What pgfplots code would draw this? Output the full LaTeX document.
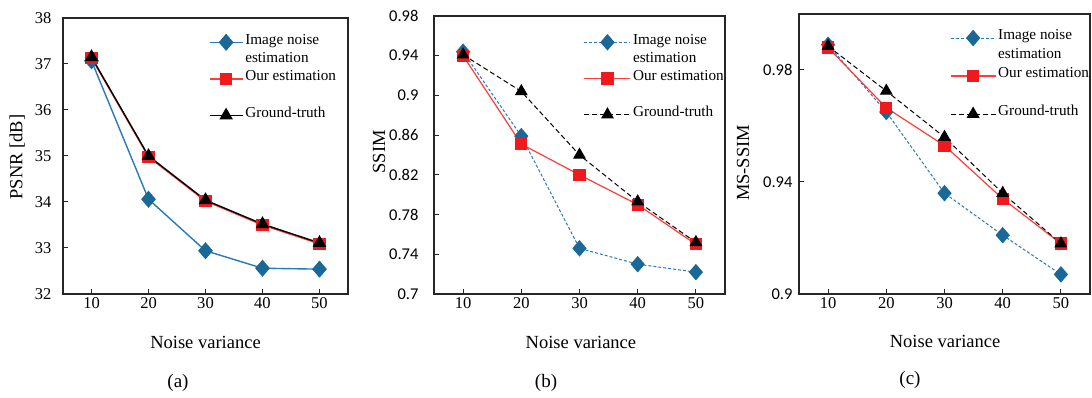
\documentclass[border=0pt]{standalone}
\usepackage{fontspec}
\setmainfont{Liberation Serif}
\newfontfamily\carlito{Carlito}
\usepackage{pgfplots}
\pgfplotsset{compat=1.18}

\definecolor{bline}{RGB}{40,122,184}
\definecolor{bfill}{RGB}{26,104,152}
\definecolor{rline}{RGB}{255,60,60}
\definecolor{rfill}{RGB}{240,25,30}

\pgfplotsset{
 base/.style={
  scale only axis, anchor=south west,
  xmin=5, xmax=55, xtick={10,20,30,40,50},
  tick align=inside, tick pos=left, major tick length=5pt,
  axis line style={line width=1.2pt, black!85},
  every tick/.style={line width=1pt, black!85},
  /pgf/number format/assume math mode=true,
  tick label style={font=\fontsize{16.5}{18}\selectfont},
  label style={font=\fontsize{18.5}{20}\selectfont},
  xlabel={Noise variance},
  legend cell align=left,
  legend style={draw=none, fill=none, font=\fontsize{15.2}{17}\selectfont,
    anchor=north west, row sep=0pt, inner sep=0pt, outer sep=0pt, column sep=0pt,
    nodes={inner xsep=2pt, inner ysep=0pt, text height=11pt, text depth=6.5pt}},
 },
 leglen/.style={legend image code/.code={\draw[mark repeat=2,mark phase=2,##1] plot coordinates {(0pt,0pt)(#1/2,0pt)(#1,0pt)};}},
 imgA/.style={color=bline, line width=1.4pt, mark=diamond*, mark size=7.5pt, mark options={xscale=1.15, fill=bfill, draw=bfill, solid}},
 ourA/.style={color=rline, line width=1.4pt, mark=square*, mark size=5.5pt, mark options={fill=rfill, draw=rfill, solid}},
 gtA/.style={color=black, line width=1.4pt, mark=triangle*, mark size=6.5pt, mark options={fill=black, solid}},
}

\begin{document}
\begin{tikzpicture}[x=1pt,y=1pt]
\useasboundingbox (0,0) rectangle (1092,398);

% (a)
\begin{axis}[base, at={(63pt,104pt)}, width=285pt, height=276pt,
  ymin=32, ymax=38, ytick={32,33,34,35,36,37,38},
  yticklabel style={xshift=-8pt},
  ylabel={PSNR [dB]},
  ylabel style={at={(axis description cs:-0.161,0.496)}, anchor=center},
  xlabel style={at={(axis description cs:0.5,-0.174)}, anchor=center},
  legend style={at={(axis description cs:0.512,0.945)}, nodes={text height=11pt, text depth=7.3pt}},
  leglen=33pt]
\addplot[imgA] coordinates {(10,37.07)(20,34.06)(30,32.94)(40,32.56)(50,32.54)};
\addlegendentry{Image noise}
\addlegendimage{empty legend}\addlegendentry{estimation}
\addplot[ourA] coordinates {(10,37.13)(20,34.98)(30,34.02)(40,33.50)(50,33.09)};
\addlegendentry{Our estimation}
\addlegendimage{empty legend}\addlegendentry{}
\addplot[gtA] coordinates {(10,37.15)(20,35.00)(30,34.04)(40,33.52)(50,33.11)};
\addlegendentry{Ground-truth}
\end{axis}

% (b)
\begin{axis}[base, at={(434pt,104pt)}, width=291pt, height=278pt,
  ymin=0.7, ymax=0.98, ytick={0.7,0.74,0.78,0.82,0.86,0.9,0.94,0.98},
  yticklabel style={font=\carlito\fontsize{16.5}{18}\selectfont, xshift=-12pt},
  ylabel={SSIM},
  ylabel style={at={(axis description cs:-0.189,0.511)}, anchor=center},
  xlabel style={at={(axis description cs:0.505,-0.176)}, anchor=center},
  legend style={at={(axis description cs:0.515,0.938)}, nodes={text height=11pt, text depth=7.1pt}},
  leglen=46pt]
\addplot[imgA, line width=1pt, dash pattern=on 3pt off 2pt] coordinates {(10,0.944)(20,0.859)(30,0.746)(40,0.730)(50,0.722)};
\addlegendentry{Image noise}
\addlegendimage{empty legend}\addlegendentry{estimation}
\addplot[ourA, line width=1.2pt] coordinates {(10,0.940)(20,0.851)(30,0.820)(40,0.790)(50,0.750)};
\addlegendentry{Our estimation}
\addlegendimage{empty legend}\addlegendentry{}
\addplot[gtA, line width=1pt, dash pattern=on 5pt off 3pt] coordinates {(10,0.941)(20,0.904)(30,0.840)(40,0.793)(50,0.752)};
\addlegendentry{Ground-truth}
\end{axis}

% (c)
\begin{axis}[base, at={(799pt,104pt)}, width=291pt, height=280pt,
  ymin=0.9, ymax=1.0, ytick={0.9,0.94,0.98},
  yticklabel style={font=\carlito\fontsize{16.5}{18}\selectfont, xshift=-3pt},
  ylabel={MS-SSIM},
  ylabel style={at={(axis description cs:-0.192,0.468)}, anchor=center},
  xlabel style={at={(axis description cs:0.502,-0.171)}, anchor=center},
  legend style={at={(axis description cs:0.519,0.948)}, nodes={text height=11.4pt, text depth=7.6pt}},
  leglen=45pt]
\addplot[imgA, line width=1pt, dash pattern=on 3pt off 2pt] coordinates {(10,0.989)(20,0.965)(30,0.936)(40,0.921)(50,0.907)};
\addlegendentry{Image noise}
\addlegendimage{empty legend}\addlegendentry{estimation}
\addplot[ourA, line width=1.2pt] coordinates {(10,0.988)(20,0.9665)(30,0.953)(40,0.934)(50,0.918)};
\addlegendentry{Our estimation}
\addlegendimage{empty legend}\addlegendentry{}
\addplot[gtA, line width=1pt, dash pattern=on 5pt off 3pt] coordinates {(10,0.9885)(20,0.9725)(30,0.956)(40,0.936)(50,0.918)};
\addlegendentry{Ground-truth}
\end{axis}

\node[font=\fontsize{19}{21}\selectfont] at (178,15) {(a)};
\node[font=\fontsize{19}{21}\selectfont] at (546,15) {(b)};
\node[font=\fontsize{19}{21}\selectfont] at (910,18) {(c)};
\end{tikzpicture}
\end{document}
